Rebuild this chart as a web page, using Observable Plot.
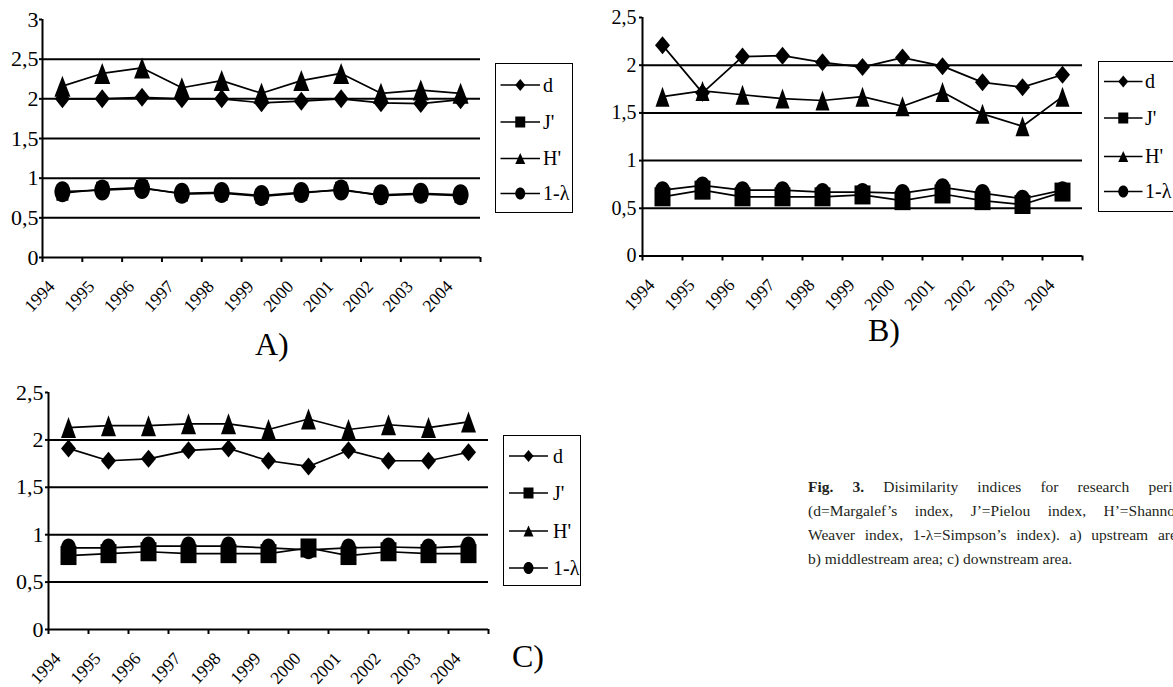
<!DOCTYPE html>
<html>
<head>
<meta charset="utf-8">
<script src="https://cdn.jsdelivr.net/npm/d3@7"></script>
<script src="https://cdn.jsdelivr.net/npm/@observablehq/plot@0.6"></script>
<style>
  html, body { margin: 0; padding: 0; background: #fff; }
  body { width: 1173px; height: 687px; overflow: hidden; position: relative; font-family: "Times New Roman", "Liberation Serif", serif; color: #000; }
  .panel { position: absolute; }
  .panel svg { background: transparent !important; max-width: none !important; overflow: visible; }
  .panel svg, .panel svg text, .legend svg text { font-family: "Times New Roman", "Liberation Serif", serif !important; }
  .panel g[aria-label$="axis tick"] { stroke-width: 2px; }
  .legend { position: absolute; border: 1.5px solid #000; background: #fff; box-sizing: border-box; overflow: hidden; }
  .plabel { position: absolute; font-size: 32px; line-height: 32px; white-space: nowrap; }
  .caption { position: absolute; font-size: 15.5px; line-height: 24px; color: #231f20; }
  .caption .j { text-align: justify; text-align-last: justify; }
</style>
</head>
<body>
<div id="root"></div>
<script>
// ---------- data ----------
const years = [1994, 1995, 1996, 1997, 1998, 1999, 2000, 2001, 2002, 2003, 2004];
const xTicks = [1994, 1995, 1996, 1997, 1998, 1999, 2000, 2001, 2002, 2003, 2004, 2005];
const seriesNames = ["d", "J'", "H'", "1-λ"];

// Panel A (upstream)
const dA = [2.00, 2.00, 2.02, 2.00, 2.00, 1.95, 1.97, 2.00, 1.95, 1.94, 1.99];
const jA = [0.81, 0.86, 0.88, 0.80, 0.81, 0.77, 0.81, 0.86, 0.78, 0.80, 0.78];
const hA = [2.16, 2.32, 2.39, 2.14, 2.23, 2.07, 2.23, 2.32, 2.07, 2.11, 2.07];
const lA = [0.83, 0.85, 0.87, 0.81, 0.82, 0.78, 0.82, 0.85, 0.79, 0.81, 0.79];

// Panel B (middlestream)
const dB = [2.21, 1.71, 2.09, 2.10, 2.03, 1.98, 2.08, 1.99, 1.82, 1.77, 1.90];
const jB = [0.62, 0.69, 0.62, 0.62, 0.62, 0.64, 0.58, 0.65, 0.58, 0.54, 0.67];
const hB = [1.67, 1.73, 1.69, 1.65, 1.63, 1.67, 1.57, 1.72, 1.49, 1.36, 1.67];
const lB = [0.69, 0.74, 0.69, 0.69, 0.67, 0.67, 0.66, 0.72, 0.66, 0.60, 0.69];

// Panel C (downstream)
const dC = [1.91, 1.78, 1.80, 1.89, 1.91, 1.78, 1.72, 1.89, 1.78, 1.78, 1.87];
const jC = [0.78, 0.80, 0.82, 0.80, 0.80, 0.80, 0.86, 0.78, 0.82, 0.80, 0.80];
const hC = [2.13, 2.15, 2.15, 2.17, 2.17, 2.11, 2.22, 2.11, 2.16, 2.13, 2.19];
const lC = [0.86, 0.86, 0.88, 0.88, 0.88, 0.86, 0.84, 0.86, 0.87, 0.86, 0.88];

// Tick values
const yTicksA = [0, 0.5, 1, 1.5, 2, 2.5, 3];
const gridA = [0.5, 1, 1.5, 2, 2.5];
const yTicksBC = [0, 0.5, 1, 1.5, 2, 2.5];
const gridBC = [0.5, 1, 1.5, 2];

const panelLabels = ["A)", "B)", "C)"];

// ---------- helpers ----------
const FONT = '"Times New Roman", "Liberation Serif", serif';
const fmt = v => String(v).replace(".", ",");

function diamondSym(w, h) { return { draw(c) { c.moveTo(0, -h / 2); c.lineTo(w / 2, 0); c.lineTo(0, h / 2); c.lineTo(-w / 2, 0); c.closePath(); } }; }
function squareSym(w, h) { return { draw(c) { c.moveTo(-w / 2, -h / 2); c.lineTo(w / 2, -h / 2); c.lineTo(w / 2, h / 2); c.lineTo(-w / 2, h / 2); c.closePath(); } }; }
function triangleSym(w, h) { return { draw(c) { c.moveTo(0, -h / 2); c.lineTo(w / 2, h / 2); c.lineTo(-w / 2, h / 2); c.closePath(); } }; }
function ellipseSym(w, h) {
  return { draw(c) {
    const k = 0.5523, a = w / 2, b = h / 2;
    c.moveTo(a, 0);
    c.bezierCurveTo(a, k * b, k * a, b, 0, b);
    c.bezierCurveTo(-k * a, b, -a, k * b, -a, 0);
    c.bezierCurveTo(-a, -k * b, -k * a, -b, 0, -b);
    c.bezierCurveTo(k * a, -b, a, -k * b, a, 0);
    c.closePath();
  } };
}
function symbolsFor(s) {
  return [diamondSym(s.d[0], s.d[1]), squareSym(s.j[0], s.j[1]), triangleSym(s.h[0], s.h[1]), ellipseSym(s.l[0], s.l[1])];
}

function makePanel(cfg) {
  const syms = symbolsFor(cfg.sizes);
  const marks = [
    Plot.ruleY(cfg.grid, {stroke: "black", strokeWidth: 2}),
    Plot.ruleY([0], {stroke: "black", strokeWidth: 2}),
    Plot.ruleX([xTicks[0]], {y1: 0, y2: cfg.yMax, stroke: "black", strokeWidth: 2}),
    Plot.text(years, {x: d => d, y: 0, text: d => String(d), rotate: -47, textAnchor: "end",
      dx: cfg.labelDx, dy: cfg.labelDy, fontSize: 17.5, fill: "black"})
  ];
  cfg.series.forEach((vals, k) => {
    const data = years.map((year, i) => ({year, value: vals[i]}));
    marks.push(Plot.line(data, {x: d => d.year + 0.5, y: "value", stroke: "black", strokeWidth: 1.7}));
    marks.push(Plot.dot(data, {x: d => d.year + 0.5, y: "value", symbol: syms[k], fill: "black", stroke: "none", r: 6}));
  });
  const svg = Plot.plot({
    width: cfg.width, height: cfg.height,
    marginLeft: cfg.ml, marginRight: cfg.mr, marginTop: cfg.mt, marginBottom: cfg.mb,
    x: {type: "linear", domain: [xTicks[0], xTicks[xTicks.length - 1]], ticks: xTicks, tickSize: 5, tickFormat: () => "", label: null},
    y: {domain: [0, cfg.yMax], ticks: cfg.yTicks, tickSize: 3, tickPadding: cfg.tickPad, tickFormat: fmt, label: null},
    style: {fontFamily: FONT, fontSize: cfg.fontSize + "px", color: "black", background: "transparent", overflow: "visible"},
    marks
  });
  const div = document.createElement("div");
  div.className = "panel";
  div.style.left = cfg.left + "px";
  div.style.top = cfg.top + "px";
  div.appendChild(svg);
  document.getElementById("root").appendChild(div);
}

function makeLegend(cfg) {
  const div = document.createElement("div");
  div.className = "legend";
  Object.assign(div.style, {left: cfg.left + "px", top: cfg.top + "px", width: cfg.width + "px", height: cfg.height + "px"});
  document.getElementById("root").appendChild(div);
  const syms = symbolsFor({d: [10, 12], j: [10, 11], h: [10, 11], l: [10, 12]});
  const svg = d3.select(div).append("svg").attr("width", cfg.width).attr("height", cfg.height)
    .style("position", "absolute").style("left", "-1.5px").style("top", "-1.5px");
  seriesNames.forEach((name, k) => {
    const y = cfg.itemY[k];
    const g = svg.append("g");
    g.append("line").attr("x1", cfg.x1).attr("x2", cfg.x2).attr("y1", y).attr("y2", y)
      .attr("stroke", "black").attr("stroke-width", 1.7);
    g.append("path").attr("d", d3.symbol(syms[k])()).attr("transform", `translate(${(cfg.x1 + cfg.x2) / 2},${y})`).attr("fill", "black");
    g.append("text").attr("x", cfg.tx).attr("y", y).attr("dy", "0.34em").style("font-size", cfg.fontSize + "px")
      .style("font-family", FONT).text(name);
  });
}

function makeLabel(text, left, top) {
  const div = document.createElement("div");
  div.className = "plabel";
  div.style.left = left + "px";
  div.style.top = top + "px";
  div.textContent = text;
  document.getElementById("root").appendChild(div);
}

// ---------- panels ----------
makePanel({series: [dA, jA, hA, lA], yMax: 3, yTicks: yTicksA, grid: gridA,
  left: 0, top: 0, width: 490, height: 335, ml: 42, mr: 10, mt: 19, mb: 78,
  fontSize: 22, tickPad: 1, labelDx: 9, labelDy: 26,
  sizes: {d: [15, 19], j: [12, 15], h: [16, 21], l: [16, 21]}});

makePanel({series: [dB, jB, hB, lB], yMax: 2.5, yTicks: yTicksBC, grid: gridBC,
  left: 600, top: 0, width: 490, height: 335, ml: 42, mr: 8, mt: 17, mb: 79.5,
  fontSize: 20, tickPad: 3, labelDx: 9, labelDy: 26,
  sizes: {d: [15, 18], j: [16, 19], h: [14, 20], l: [15, 18]}});

makePanel({series: [dC, jC, hC, lC], yMax: 2.5, yTicks: yTicksBC, grid: gridBC,
  left: 0, top: 372, width: 495, height: 315, ml: 48, mr: 7, mt: 20, mb: 58,
  fontSize: 22, tickPad: 2, labelDx: 9, labelDy: 26,
  sizes: {d: [15, 18], j: [16, 19], h: [15, 21], l: [15, 19]}});

// ---------- legends ----------
makeLegend({left: 495, top: 63, width: 78, height: 150, itemY: [22, 59, 95.5, 130.5], x1: 5.5, x2: 45, tx: 48, fontSize: 20});
makeLegend({left: 1098, top: 61, width: 80, height: 151, itemY: [20.5, 57, 95.5, 130.5], x1: 6, x2: 44.5, tx: 47, fontSize: 20});
makeLegend({left: 503, top: 435, width: 78, height: 151, itemY: [21, 58, 96, 133], x1: 6, x2: 45, tx: 50, fontSize: 20});

// ---------- panel labels ----------
makeLabel(panelLabels[0], 255, 328);
makeLabel(panelLabels[1], 868, 314);
makeLabel(panelLabels[2], 512, 640);

// ---------- caption ----------
const cap = document.createElement("div");
cap.className = "caption";
Object.assign(cap.style, {left: "808px", top: "475px", width: "380px"});
cap.innerHTML =
  '<div class="j"><b>Fig. 3.</b> Disimilarity indices for research period</div>' +
  '<div class="j">(d=Margalef’s index, J’=Pielou index, H’=Shannon-</div>' +
  '<div class="j">Weaver index, 1-λ=Simpson’s index). a) upstream area;</div>' +
  '<div>b) middlestream area; c) downstream area.</div>';
document.getElementById("root").appendChild(cap);
</script>
</body>
</html>
